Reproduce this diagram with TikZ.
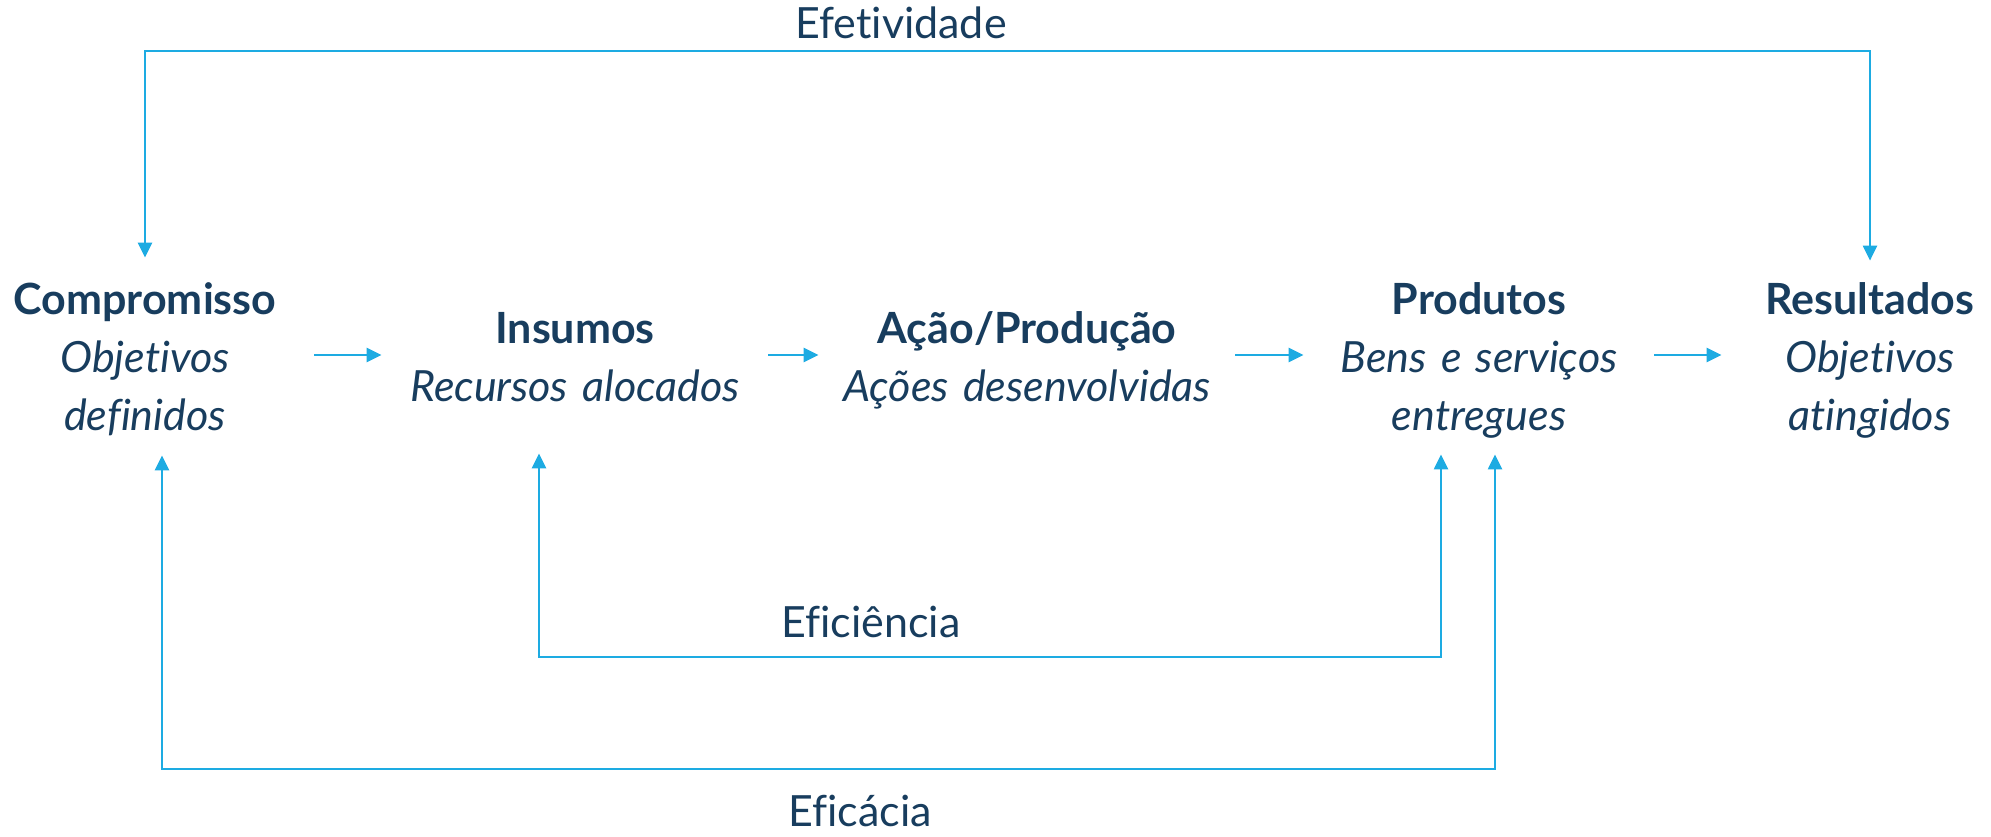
\documentclass[tikz,border=0pt]{standalone}
\usepackage{fontspec}
\setmainfont{Lato}[Ligatures=NoCommon]
\usetikzlibrary{arrows.meta}

\definecolor{azul}{RGB}{29,171,226}
\definecolor{marinho}{RGB}{24,61,94}
\newcommand{\titulo}[1]{\strut\textbf{#1}}
\newcommand{\descr}[1]{\strut\textit{#1}}

\begin{document}
\begin{tikzpicture}[x=0.5pt, y=-0.5pt,
        font=\fontsize{21.5}{29}\selectfont, text=marinho,
        etapa/.style={inner sep=0, align=center},
        seta/.style={draw=azul, line width=1.4pt, -{Triangle[length=7.5pt,width=7pt]}},
        laco/.style={draw=azul, line width=1.2pt,
            {Triangle[length=7.5pt,width=7pt]}-{Triangle[length=7.5pt,width=7pt]}},
        rotulo/.style={inner sep=0, anchor=base}]
            \useasboundingbox (0,0) rectangle (1991,836);
            % etapas
            \node[etapa, text width=169pt] (comp) at (145,361) {\titulo{Compromisso}\\ \descr{Objetivos}\\ \descr{definidos}};
            \node[etapa, text width=193pt] (ins) at (575,361) {\titulo{Insumos}\\ \descr{Recursos alocados}};
            \node[etapa, text width=208pt] (acao) at (1027,361) {\titulo{Ação/Produção}\\ \descr{Ações desenvolvidas}};
            \node[etapa, text width=175pt] (prod) at (1479,361) {\titulo{Produtos}\\ \descr{Bens e serviços}\\ \descr{entregues}};
            \node[etapa, text width=148pt] (res) at (1870,361) {\titulo{Resultados}\\ \descr{Objetivos}\\ \descr{atingidos}};
            % fluxo
            \draw[seta] ([yshift=3pt]comp.east) -- ([yshift=3pt]ins.west);
            \draw[seta] ([yshift=3pt]ins.east) -- ([yshift=3pt]acao.west);
            \draw[seta] ([yshift=3pt]acao.east) -- ([yshift=3pt]prod.west);
            \draw[seta] ([yshift=3pt]prod.east) -- ([yshift=3pt]res.west);
            % lacos
            \coordinate (topo) at (0,51);
            \coordinate (meio) at (0,657);
            \coordinate (fundo) at (0,769);
            \draw[laco, shorten <=8pt, shorten >=6.5pt] (comp.north) -- (comp.north |- topo)
                  -- (res.north |- topo) -- (res.north);
            \draw[laco, shorten <=17pt, shorten >=3pt] ([xshift=-18pt]ins.south)
                  -- ([xshift=-18pt]ins.south |- meio) -- ([xshift=-19pt]prod.south |- meio)
                  -- ([xshift=-19pt]prod.south);
            \draw[laco, shorten <=3.5pt, shorten >=3pt] ([xshift=8.5pt]comp.south)
                  -- ([xshift=8.5pt]comp.south |- fundo) -- ([xshift=8pt]prod.south |- fundo)
                  -- ([xshift=8pt]prod.south);
            % rotulos
            \node[rotulo] (efet) at (901,38) {Efetividade};
            \node[rotulo] (efic) at (871,637) {Eficiência};
            \node[rotulo] (eficacia) at (860,826) {Eficácia};
        \end{tikzpicture}
\end{document}
